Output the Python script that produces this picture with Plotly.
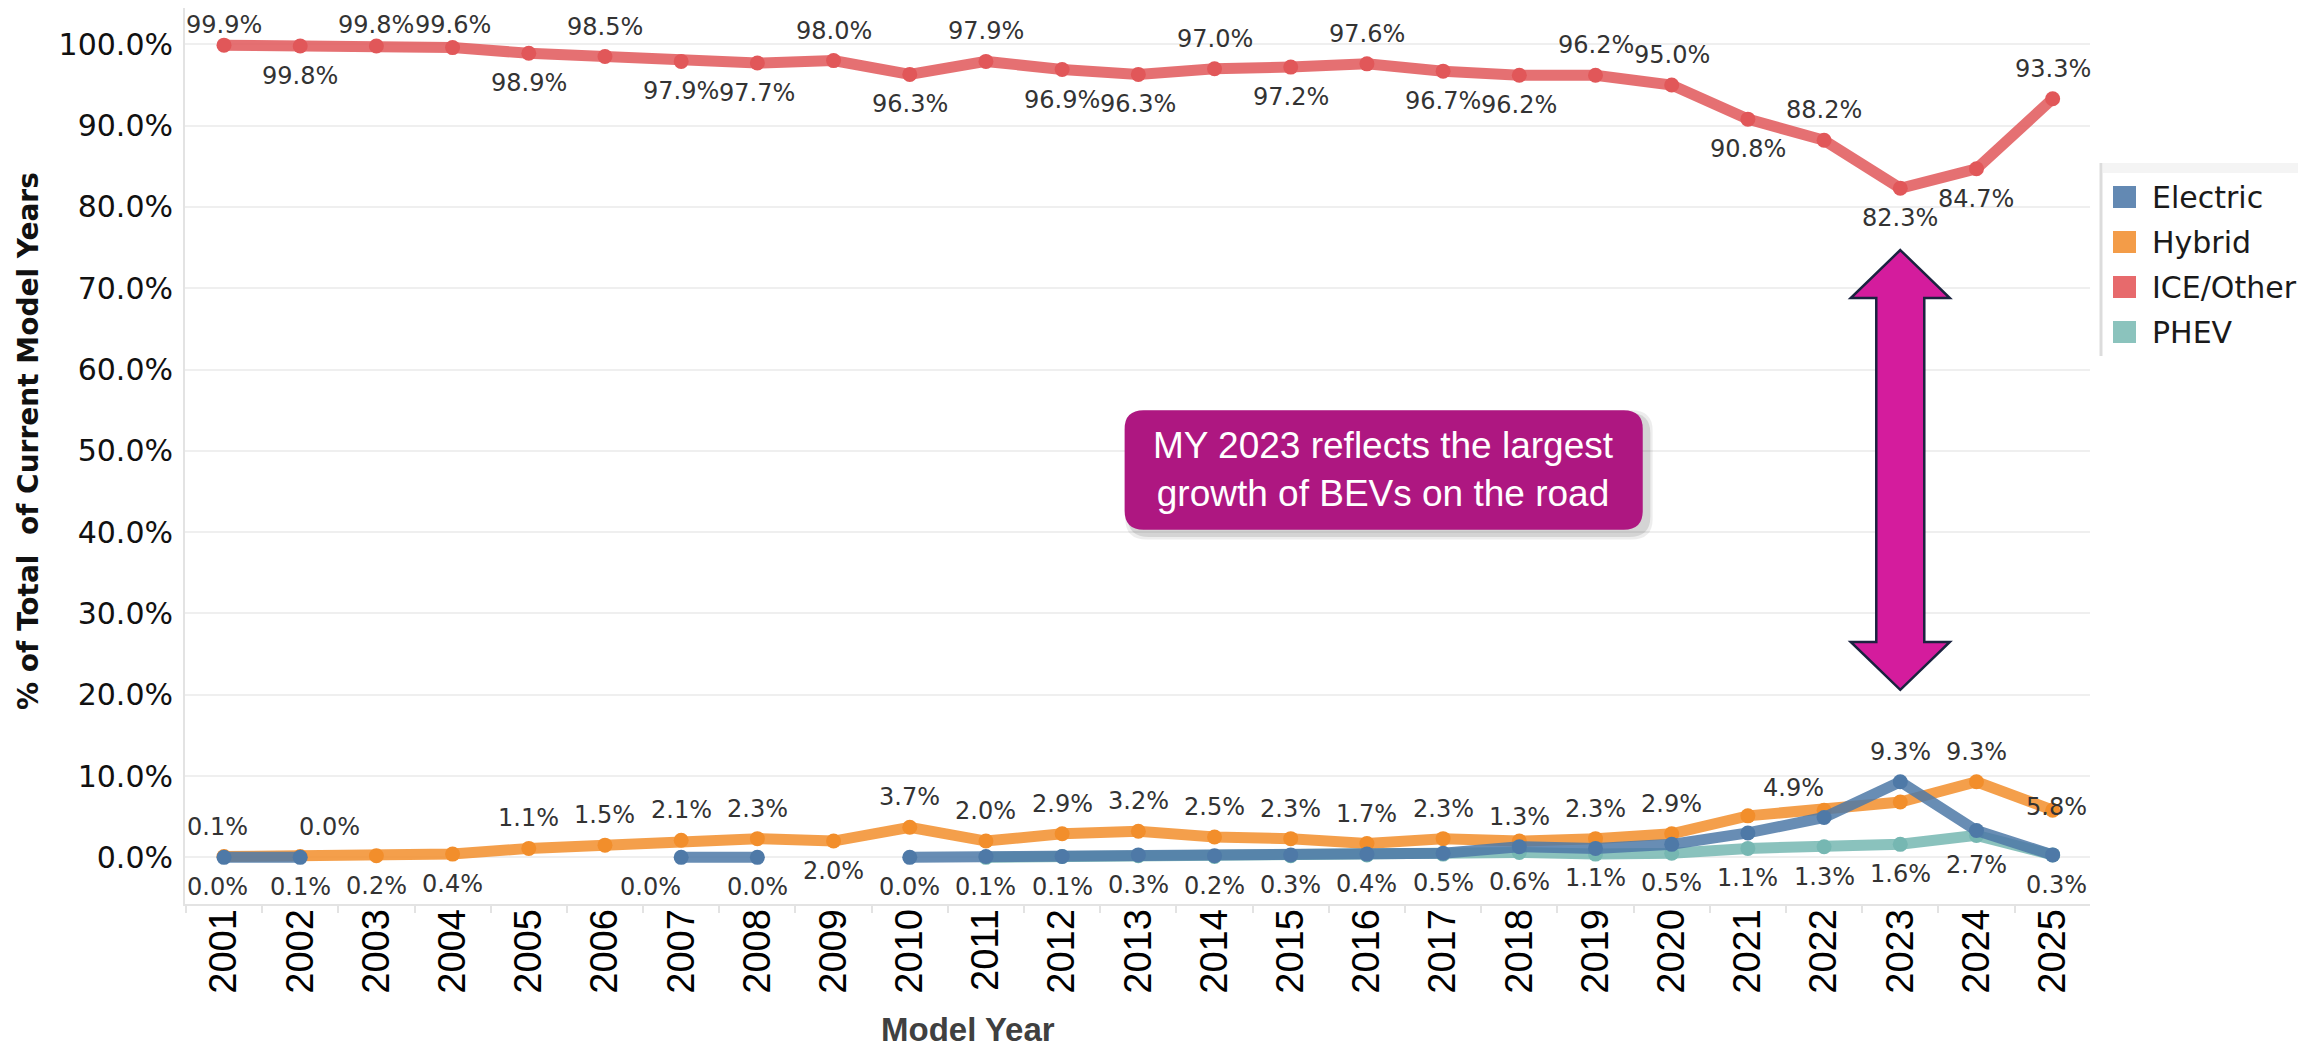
import plotly.graph_objects as go

# share of current model years by powertrain (%)
years = list(range(2001, 2026))
electric = [0.0, 0.0, None, None, None, None, 0.0, 0.0, None, 0.0, 0.1, 0.1, 0.3,
            0.2, 0.3, 0.4, 0.5, 1.3, 1.1, 1.6, 3.0, 4.9, 9.3, 3.3, 0.3]
hybrid = [0.1, 0.1, 0.2, 0.4, 1.1, 1.5, 2.1, 2.3, 2.0, 3.7, 2.0, 2.9, 3.2,
          2.5, 2.3, 1.7, 2.3, 2.0, 2.3, 2.9, 5.1, 5.8, 6.8, 9.3, 5.8]
ice = [99.9, 99.8, 99.8, 99.6, 98.9, 98.5, 97.9, 97.7, 98.0, 96.3, 97.9, 96.9, 96.3,
       97.0, 97.2, 97.6, 96.7, 96.2, 96.2, 95.0, 90.8, 88.2, 82.3, 84.7, 93.3]
phev = [None] * 10 + [0.0, 0.1, 0.2, 0.1, 0.2, 0.3, 0.4, 0.6, 0.4, 0.5, 1.1,
                      1.3, 1.6, 2.7, 0.3]

# which labels Tableau showed: t = above, b = below, '' = none
electric_lbl = ['b', 't', '', '', '', '', 'b', 'b', '', 'b', 'b', 'b', 'b',
                'b', 'b', 'b', 'b', 't', 'b', '', '', 't', 't', '', 'b']
hybrid_lbl = ['t', 'b', 'b', 'b', 't', 't', 't', 't', 'b', 't', 't', 't', 't',
              't', 't', 't', 't', '', 't', 't', '', '', '', 't', 't']
ice_lbl = ['t', 'b', 't', 't', 'b', 't', 'b', 'b', 't', 'b', 't', 'b', 'b',
           't', 'b', 't', 'b', 'b', 't', 't', 'b', 't', 'b', 'b', 't']
phev_lbl = [''] * 17 + ['b', '', 'b', 'b', 'b', 'b', 'b', '']

# labels Tableau nudged to avoid collisions (px)
xnudge = {('Electric', 2001): -7, ('Hybrid', 2001): -7, ('Electric', 2002): 29,
          ('Electric', 2007): -31, ('Electric', 2022): -31, ('Hybrid', 2025): 4,
          ('Electric', 2025): 4}
ynudge = {('Hybrid', 2025): 3}

series = [
    ('PHEV', phev, phev_lbl, 'rgba(118,183,178,0.85)', '#76b7b2'),
    ('ICE/Other', ice, ice_lbl, 'rgba(225,87,89,0.85)', '#e15759'),
    ('Hybrid', hybrid, hybrid_lbl, 'rgba(242,142,43,0.85)', '#f28e2b'),
    ('Electric', electric, electric_lbl, 'rgba(78,121,167,0.85)', '#4e79a7'),
]
legend_order = ['Electric', 'Hybrid', 'ICE/Other', 'PHEV']
legend_colors = {'Electric': '#6389b3', 'Hybrid': '#f39c48', 'ICE/Other': '#e76a6c', 'PHEV': '#8bc3bd'}

# page is 2306x1052 but the html body has an 8px margin
W, H, OFF = 2306, 1052, 8
# plot area in page pixels
PL, PR, PT, PB = 185, 2090, 8, 904
YMIN, YMAX = -5.74, 104.47


def pxx(x):
    return (x - PL) / (PR - PL)


def pxy(y):
    return (PB - y) / (PB - PT)


def rounded_rect(x0, x1, y0, y1, rx, ry):
    return (f"M {x0+rx},{y0} L {x1-rx},{y0} Q {x1},{y0} {x1},{y0+ry} "
            f"L {x1},{y1-ry} Q {x1},{y1} {x1-rx},{y1} L {x0+rx},{y1} "
            f"Q {x0},{y1} {x0},{y1-ry} L {x0},{y0+ry} Q {x0},{y0} {x0+rx},{y0} Z")


px_per_unit = (PB - PT) / (YMAX - YMIN)

fig = go.Figure()
annotations = []

for name, vals, lbl, lc, mc in series:
    fig.add_trace(go.Scatter(
        x=years, y=vals, name=name, mode='lines+markers',
        line=dict(color=lc, width=11),
        marker=dict(color=mc, size=15),
        connectgaps=False, showlegend=False,
    ))
    for yr, v, pos in zip(years, vals, lbl):
        if v is None or not pos:
            continue
        dy = 30 if pos == 't' else -30
        if pos == 't':
            # keep labels inside the view like Tableau does
            room = PB - (v - YMIN) * px_per_unit - 25
            dy = min(dy, room)
        dy = ynudge.get((name, yr), dy)
        annotations.append(dict(
            x=yr, y=v, text=f"{v:.1f}%", showarrow=False,
            xshift=xnudge.get((name, yr), 0), yshift=dy,
            xanchor='center', yanchor='middle',
            font=dict(family='DejaVu Sans', size=24, color='#333333'),
        ))

# axis titles
annotations.append(dict(
    x=pxx(28), y=pxy(441), xref='paper', yref='paper', showarrow=False,
    xanchor='center', yanchor='middle',
    text='<b>% of Total\u00a0 of Current Model Years</b>', textangle=-90,
    font=dict(family='DejaVu Sans', size=28, color='#111111'),
))
annotations.append(dict(
    x=pxx(968), y=pxy(1029), xref='paper', yref='paper', showarrow=False,
    xanchor='center', yanchor='middle',
    text='<b>Model Year</b>',
    font=dict(family='Liberation Sans, Arial', size=33, color='#404040'),
))

# callout text
annotations.append(dict(
    x=2016.22, y=47.65, showarrow=False, xanchor='center', yanchor='middle',
    text='MY 2023 reflects the largest<br>growth of BEVs on the road',
    font=dict(family='Liberation Sans, Arial', size=37, color='white'),
))

shapes = []
# dotted zero line
shapes.append(dict(type='line', xref='paper', x0=0, x1=1, y0=0, y1=0,
                   line=dict(color='#a8a8a8', width=1.5, dash='dot'), layer='below'))

# callout box with soft drop shadow
bx0, bx1, by0, by1 = 2012.82, 2019.62, 40.3, 55.0
for grow, alpha in [(0.06, 0.07), (0.03, 0.1)]:
    shapes.append(dict(type='path',
                       path=rounded_rect(bx0 - grow + 0.07, bx1 + grow + 0.07,
                                         by0 - grow * 10 - 0.6, by1 + grow * 10 - 0.6,
                                         0.28, 2.5),
                       fillcolor=f'rgba(0,0,0,{alpha})', line=dict(width=0)))
shapes.append(dict(type='path', path=rounded_rect(bx0, bx1, by0, by1, 0.25, 2.3),
                   fillcolor='#ae1781', line=dict(width=0)))

# double-headed arrow at MY 2023
ax0, hw, sw = 2023, 0.65, 0.315
ytop, ytb, ybb, ybot = 74.7, 68.8, 26.5, 20.6
arrow = (f"M {ax0},{ytop} L {ax0+hw},{ytb} L {ax0+sw},{ytb} L {ax0+sw},{ybb} "
         f"L {ax0+hw},{ybb} L {ax0},{ybot} L {ax0-hw},{ybb} L {ax0-sw},{ybb} "
         f"L {ax0-sw},{ytb} L {ax0-hw},{ytb} Z")
shapes.append(dict(type='path', path=arrow, fillcolor='#d41c9d',
                   line=dict(color='#1b2340', width=2.5)))

# hand-drawn legend to match Tableau's square swatches
shapes.append(dict(type='line', xref='paper', yref='paper',
                   x0=pxx(2101), x1=pxx(2101), y0=pxy(163), y1=pxy(356),
                   line=dict(color='#dcdcdc', width=3)))
shapes.append(dict(type='rect', xref='paper', yref='paper',
                   x0=pxx(2103), x1=pxx(W), y0=pxy(173), y1=pxy(163),
                   fillcolor='#f4f4f4', line=dict(width=0)))
for i, name in enumerate(legend_order):
    cy = 197 + 45 * i
    shapes.append(dict(type='rect', xref='paper', yref='paper',
                       x0=pxx(2113), x1=pxx(2136), y0=pxy(cy + 11), y1=pxy(cy - 11),
                       fillcolor=legend_colors[name], line=dict(width=0)))
    annotations.append(dict(
        x=pxx(2150), y=pxy(cy), xref='paper', yref='paper', showarrow=False,
        xanchor='left', yanchor='middle', text=name,
        font=dict(family='DejaVu Sans', size=30, color='#1a1a1a'),
    ))

fig.update_layout(
    width=W - OFF, height=H - OFF,
    margin=dict(l=PL - OFF, r=W - PR, t=PT - OFF, b=H - PB),
    plot_bgcolor='white', paper_bgcolor='white',
    showlegend=False,
    shapes=shapes, annotations=annotations,
)
fig.update_xaxes(
    range=[2000.488, 2025.49], tickvals=years, ticktext=[str(y) for y in years],
    tickangle=-90, ticks='', ticklabelstandoff=-12,
    tickfont=dict(family='Liberation Sans, Arial', size=38, color='#000000'),
    showgrid=False, zeroline=False, automargin=False,
    showline=True, linecolor='#e3e3e3', linewidth=2,
    minor=dict(tickvals=[y + 0.5 for y in range(2000, 2026)], ticks='outside',
               ticklen=7, tickwidth=2, tickcolor='#e3e3e3', showgrid=False),
)
fig.update_yaxes(
    range=[YMIN, YMAX], tickvals=list(range(0, 101, 10)),
    ticktext=[f"{v:.1f}%" for v in range(0, 101, 10)],
    ticks='', ticklabelstandoff=4, automargin=False,
    tickfont=dict(family='DejaVu Sans', size=30, color='#111111'),
    showgrid=True, gridcolor='#efefef', gridwidth=2, zeroline=False,
    showline=True, linecolor='#e3e3e3', linewidth=2,
)

fig.write_html("out.html")
